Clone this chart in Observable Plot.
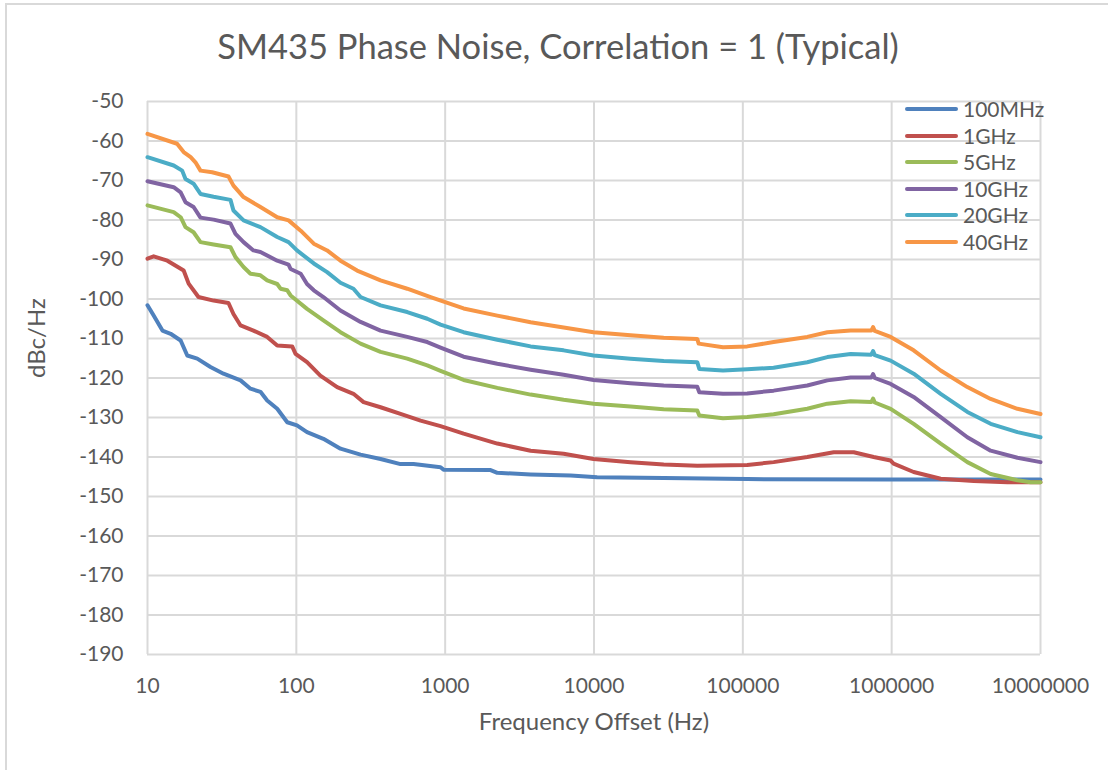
<!DOCTYPE html>
<html><head><meta charset="utf-8">
<script src="https://cdn.jsdelivr.net/npm/d3@7"></script>
<script src="https://cdn.jsdelivr.net/npm/@observablehq/plot@0.6"></script>
<style>
body{margin:0;background:#fff;}
#wrap{position:relative;width:1108px;height:770px;overflow:hidden;font-family:Lato,"Open Sans",sans-serif;color:#595959;}
#frame{position:absolute;left:5px;top:3px;width:1300px;height:900px;border:2px solid #d9d9d9;box-sizing:border-box;}
#chart{position:absolute;left:0;top:0;}
#legend{position:absolute;left:905px;top:96px;font-size:21px;line-height:26.5px;}
#legend .item{display:flex;align-items:center;white-space:nowrap;}
#legend .sw{display:inline-block;width:53px;height:4px;border-radius:2px;margin-right:5px;}
</style></head>
<body><div id="wrap"><div id="frame"></div><div id="chart"></div><div id="legend"></div></div>
<script>
const seriesNames = ["100MHz","1GHz","5GHz","10GHz","20GHz","40GHz"];
const seriesColors = ["#4F81BD","#C0504D","#9BBB59","#8064A2","#4BACC6","#F79646"];
const xTicks = [10,100,1000,10000,100000,1000000,10000000];
const yTicks = [-190,-180,-170,-160,-150,-140,-130,-120,-110,-100,-90,-80,-70,-60,-50];
const titleText = "SM435 Phase Noise, Correlation = 1 (Typical)";
const xLabel = "Frequency Offset (Hz)";
const yLabel = "dBc/Hz";

const f100M = [10,11,12.6,14.3,16.7,18.5,21.6,26.5,32.4,42.2,49.2,57.4,63.7,74.4,86.9,101,118,152,198,270,368,501,613,931,975,2020,2240,3750,6970,10500,29400,107000,1000000,10000000];
const v100M = [-101.6,-104.2,-108,-108.8,-110.5,-114.3,-115.1,-117.2,-118.9,-120.6,-122.7,-123.5,-125.7,-127.8,-131.2,-132,-133.7,-135.4,-137.9,-139.4,-140.5,-141.8,-141.8,-142.6,-143.2,-143.3,-144.0,-144.4,-144.7,-145.1,-145.3,-145.6,-145.7,-145.7];

const f1G = [10,11,13.6,17.5,18.9,22,27.8,35,37.8,42.2,51.5,63.7,74.4,93.8,98.8,118,145,188,242,283,368,501,684,931,1330,2240,3750,6250,9930,17600,29400,49400,107000,161000,271000,408000,556000,757000,984000,1030000,1405000,2135000,3560000,6000000,10000000];
const v1G = [-89.8,-89.2,-90.3,-92.8,-96.1,-99.5,-100.4,-101,-103.8,-106.7,-108,-109.6,-111.8,-112,-113.9,-116,-119.4,-122.3,-124,-126.1,-127.4,-129.1,-130.8,-132.2,-134.1,-136.6,-138.4,-139.2,-140.5,-141.3,-141.9,-142.2,-142.0,-141.3,-140,-138.8,-138.8,-140,-140.9,-141.7,-143.8,-145.5,-146.1,-146.4,-146.4];

const f5G = [10,15,16.7,18,20.4,22.7,27.8,36.1,39,44.2,49.2,57.4,63.7,74.4,78.3,86.9,91.5,118,152,198,270,368,556,758,931,1330,2240,3750,6250,9930,17600,29400,49400,51000,73600,107000,161000,271000,370000,530000,730000,750000,770000,984000,1405000,2135000,3225000,4625000,7000000,8590000,10000000];
const v5G = [-76.3,-78,-79.3,-81.8,-83.1,-85.6,-86.2,-86.9,-89.4,-91.9,-93.6,-94,-95.3,-96.2,-97.4,-97.8,-99.1,-102.5,-105.4,-108.4,-111.3,-113.4,-115.1,-116.8,-118.2,-120.5,-122.5,-124.2,-125.5,-126.5,-127.2,-127.9,-128.2,-129.5,-130.2,-129.9,-129.2,-127.8,-126.5,-125.9,-126.1,-125.2,-126.2,-127.8,-131.6,-136.6,-141.3,-144.3,-145.9,-146.4,-146.4];

const f10G = [10,15,16.7,18,20.4,22.7,27.8,36.1,39,44.2,51.5,57.4,74.4,88.7,91.5,107,118,131,152,198,270,368,556,758,931,1330,2240,3750,6250,9930,17600,29400,49400,51000,73600,107000,161000,271000,370000,530000,730000,750000,770000,984000,1405000,2135000,3225000,4625000,7000000,10000000];
const v10G = [-70.2,-71.7,-73,-75.5,-76.7,-79.4,-79.9,-80.9,-83.5,-85.6,-87.7,-88.1,-90.3,-91.3,-92.4,-93.6,-96.2,-97.8,-99.5,-102.9,-105.8,-108,-109.6,-110.9,-112.3,-114.6,-116.4,-117.9,-119.2,-120.5,-121.3,-121.9,-122.2,-123.6,-124,-123.9,-123.2,-121.9,-120.6,-119.9,-119.9,-119.0,-120.0,-121.5,-124.8,-129.9,-135,-138.4,-140.2,-141.3];

const f20G = [10,15,17.1,18,20.4,22.7,27.8,36.1,37.8,44.2,57.4,74.4,88.7,101,131,161,198,242,270,368,556,758,931,1330,2240,3750,6250,9930,17600,29400,49400,51000,73600,107000,161000,271000,370000,530000,730000,750000,770000,984000,1405000,2135000,3225000,4625000,7000000,10000000];
const v20G = [-64.1,-66.2,-67.5,-69.6,-70.8,-73.4,-74.1,-74.9,-77.6,-80.1,-81.8,-84.3,-85.6,-87.7,-91,-93.2,-95.9,-97.4,-99.5,-101.6,-103.3,-105,-106.5,-108.4,-110.3,-112,-113,-114.3,-115.1,-115.7,-116,-117.7,-118.1,-117.8,-117.4,-116,-114.7,-113.9,-114.1,-113.2,-114.2,-115.6,-118.9,-124,-128.6,-131.6,-133.7,-135];

const f40G = [10,15.8,17.5,19.5,21,22.7,27.2,35,37.8,44.2,57.4,74.4,88.7,107,131,161,198,256,368,556,798,1330,2240,3750,6250,9930,17600,29400,49400,50500,73600,107000,161000,271000,370000,530000,730000,750000,770000,984000,1405000,2135000,3225000,4625000,7000000,10000000];
const v40G = [-58.2,-60.7,-62.8,-64.1,-65.4,-67.5,-67.9,-69,-71.3,-74.2,-76.7,-79.3,-80.1,-82.7,-86,-87.7,-90.3,-92.8,-95.3,-97.4,-99.5,-102.4,-104.2,-105.9,-107.2,-108.4,-109.2,-109.8,-110.1,-111.3,-112.2,-112.0,-110.9,-109.6,-108.4,-108.0,-108.0,-107.1,-108.1,-109.6,-113,-118.1,-122.3,-125.3,-127.8,-129.1];

const freqs = [f100M,f1G,f5G,f10G,f20G,f40G];
const vals = [v100M,v1G,v5G,v10G,v20G,v40G];
const data = seriesNames.flatMap((s,i) => freqs[i].map((f,j) => ({series:s, f, v: vals[i][j]})));

const plot = Plot.plot({
  width:1108, height:770,
  marginLeft:147, marginRight:68, marginTop:101, marginBottom:116,
  style:{fontFamily:"Lato, 'Open Sans', sans-serif", fontSize:"21px", color:"#595959", background:"transparent", overflow:"visible"},
  x:{type:"log", domain:[10,1e7], ticks:xTicks, tickFormat:d=>String(d), tickSize:0, tickPadding:24, label:null},
  y:{domain:[-190,-50], ticks:yTicks, tickFormat:d=>String(d), tickSize:0, tickPadding:24, label:null},
  color:{domain:seriesNames, range:seriesColors},
  marks:[
    Plot.gridX(xTicks,{stroke:"#d9d9d9", strokeOpacity:1, strokeWidth:2}),
    Plot.gridY(yTicks,{stroke:"#d9d9d9", strokeOpacity:1, strokeWidth:2}),
    Plot.line(data,{x:"f", y:"v", z:"series", stroke:"series", strokeWidth:4, strokeLinejoin:"round", strokeLinecap:"round"}),
    Plot.text([titleText],{frameAnchor:"top", lineAnchor:"middle", dy:-54, dx:-36, fontSize:34.5, fill:"#595959"}),
    Plot.text([xLabel],{frameAnchor:"bottom", lineAnchor:"middle", dy:68, fontSize:24, fill:"#595959"}),
    Plot.text([yLabel],{frameAnchor:"left", lineAnchor:"middle", dx:-110, rotate:-90, fontSize:24, fill:"#595959"})
  ]
});
document.getElementById("chart").appendChild(plot);

const leg = document.getElementById("legend");
seriesNames.forEach((s,i) => {
  const it = document.createElement("div"); it.className = "item";
  const sw = document.createElement("span"); sw.className = "sw"; sw.style.background = seriesColors[i];
  const tx = document.createElement("span"); tx.textContent = s;
  it.appendChild(sw); it.appendChild(tx); leg.appendChild(it);
});
</script></body></html>
